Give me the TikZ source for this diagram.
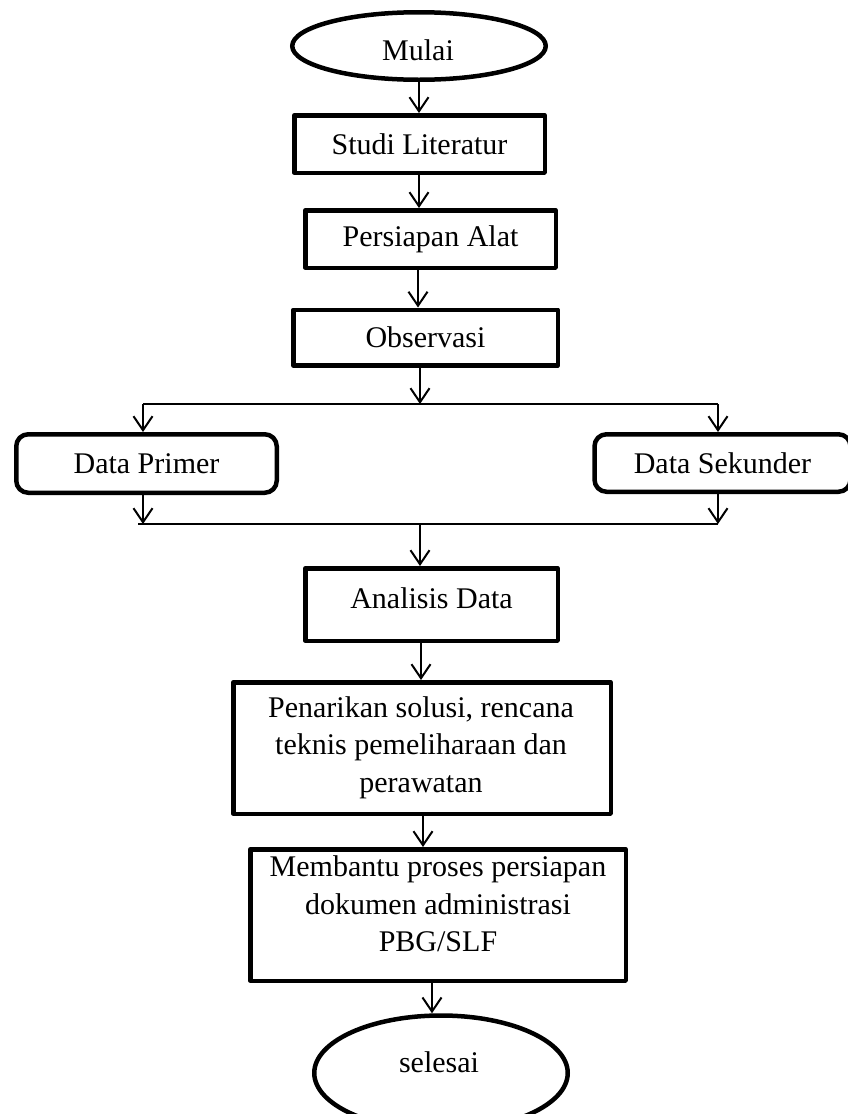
\documentclass[tikz,border=0pt]{standalone}
\usepackage{fontspec}
\setmainfont{Liberation Serif}
\usetikzlibrary{shapes.geometric,arrows.meta}
\begin{document}
\begin{tikzpicture}[x=1pt,y=-1pt,
  every node/.style={font=\fontsize{30}{37.5}\selectfont, inner sep=0pt},
  box/.style={draw, line width=4.5pt, rectangle, line join=round},
  rbox/.style={box, rounded corners=12pt},
  term/.style={draw, line width=4.5pt, ellipse},
  txt/.style={align=center},
  arr/.style={line width=2pt, -{Straight Barb[length=14pt,width=19pt,line width=2pt]}},
  ln/.style={line width=2pt}]
\useasboundingbox (0,0) rectangle (848,1114);

\node[term, minimum width=253.5, minimum height=67.5] (mulai) at (419,46) {};
\node[txt] (mulaiT) at (418,50) {Mulai};
\node[box, minimum width=250.5, minimum height=57.5] (studi) at (419.5,144) {Studi Literatur};
\node[box, minimum width=250.5, minimum height=57.5] (pers) at (430.5,239) {Persiapan Alat};
\node[box, minimum width=264.5, minimum height=55.5] (obs) at (425.5,337.5) {Observasi};
\node[rbox, minimum width=260.5, minimum height=58.5] (prim) at (146.5,463.5) {Data Primer};
\node[rbox, minimum width=256, minimum height=57.5] (sek) at (722.5,463) {Data Sekunder};
\node[box, minimum width=252.5, minimum height=72.5] (ana) at (431.5,604.5) {};
\node[txt] (anaT) at (431.5,598) {Analisis Data};
\node[box, minimum width=377.5, minimum height=131.5] (pen) at (422,748) {};
\node[txt] (penT) at (421,747.5) {Penarikan solusi, rencana\\teknis pemeliharaan dan\\perawatan};
\node[box, minimum width=375.5, minimum height=131.5] (mem) at (438,915) {};
\node[txt] (memT) at (438,904) {Membantu proses persiapan\\dokumen administrasi\\PBG/SLF};
\node[term, minimum width=253.5, minimum height=115] (sel) at (441,1073) {};
\node[txt] (selT) at (439,1062) {selesai};

\coordinate (split) at (420,404);
\coordinate (sl) at (143,404);
\coordinate (sr) at (718,404);
\coordinate (ml) at (138,524);
\coordinate (mlx) at (143,524);
\coordinate (mr) at (718,524);
\coordinate (mc) at (420,524);
\coordinate (a1) at (419,0);
\coordinate (a2) at (418,0);
\coordinate (a3) at (421,0);
\coordinate (a4) at (423,0);
\coordinate (a5) at (432,0);

\draw[arr] (a1 |- mulai.south) -- (a1 |- studi.north);
\draw[arr] (a1 |- studi.south) -- (a1 |- pers.north);
\draw[arr] (a2 |- pers.south) -- (a2 |- obs.north);
\draw[arr] (split |- obs.south) -- (split);
\draw[ln] (sl) -- (sr);
\draw[arr] (sl) -- (sl |- prim.north);
\draw[arr] (sr) -- (sr |- sek.north);
\draw[arr] (sl |- prim.south) -- (mlx);
\draw[arr] (sr |- sek.south) -- (mr);
\draw[ln] (ml) -- (mr);
\draw[arr] (mc) -- (mc |- ana.north);
\draw[arr] (a3 |- ana.south) -- (a3 |- pen.north);
\draw[arr] (a4 |- pen.south) -- (a4 |- mem.north);
\draw[arr] (a5 |- mem.south) -- (a5 |- sel.north);
\end{tikzpicture}
\end{document}
